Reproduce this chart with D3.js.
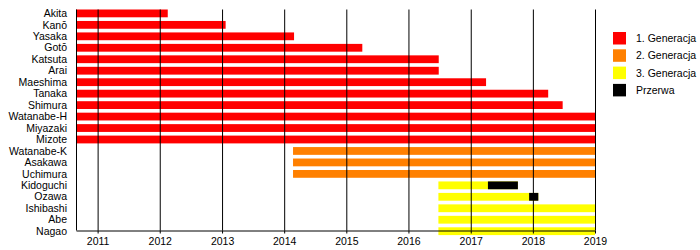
<!DOCTYPE html>
<html>
<head>
<meta charset="utf-8">
<script src="https://cdn.jsdelivr.net/npm/d3@7"></script>
<style>
  body { margin: 0; background: #fff; }
  text { font-family: "Liberation Sans", Arial, sans-serif; font-size: 10.5px; fill: #000; }
</style>
</head>
<body>
<div id="chart"></div>
<script>
// members, top to bottom
const members = ["Akita", "Kanō", "Yasaka", "Gotō", "Katsuta", "Arai", "Maeshima", "Tanaka",
    "Shimura", "Watanabe-H", "Miyazaki", "Mizote", "Watanabe-K", "Asakawa", "Uchimura",
    "Kidoguchi", "Ozawa", "Ishibashi", "Abe", "Nagao"];
const generation = [1, 1, 1, 1, 1, 1, 1, 1, 1, 1, 1, 1, 2, 2, 2, 3, 3, 3, 3, 3];
const joined = ["2010-08-27", "2010-08-27", "2010-08-27", "2010-08-27", "2010-08-27", "2010-08-27",
    "2010-08-27", "2010-08-27", "2010-08-27", "2010-08-27", "2010-08-27", "2010-08-27",
    "2014-02-22", "2014-02-22", "2014-02-22",
    "2016-06-25", "2016-06-25", "2016-06-25", "2016-06-25", "2016-06-25"];
const left = ["2012-02-17", "2013-01-22", "2014-02-28", "2015-04-05", "2016-06-27", "2016-06-27",
    "2017-04-01", "2018-04-01", "2018-06-25", "2019-01-01", "2019-01-01", "2019-01-01",
    "2019-01-01", "2019-01-01", "2019-01-01",
    "2017-10-05", "2018-02-02", "2019-01-01", "2019-01-01", "2019-01-01"];
// breaks (Przerwa)
const breakMembers = ["Kidoguchi", "Ozawa"];
const breakStart = ["2017-04-12", "2017-12-10"];
const breakEnd = ["2017-10-05", "2018-02-02"];

const years = [2011, 2012, 2013, 2014, 2015, 2016, 2017, 2018, 2019];
const legendLabels = ["1. Generacja", "2. Generacja", "3. Generacja", "Przerwa"];
const legendColors = ["#ff0000", "#ff8000", "#ffff00", "#000000"];

const width = 700, height = 250;
const margin = { top: 9.5, left: 76, right: 105, bottom: 20 };
const parseDate = d3.timeParse("%Y-%m-%d");

const svg = d3.select("#chart").append("svg")
    .attr("width", width)
    .attr("height", height);

const x = d3.scaleTime()
    .domain([parseDate("2010-08-27"), parseDate("2019-01-01")])
    .range([margin.left, width - margin.right]);

const plotBottom = 230.5;
const y = d3.scaleBand()
    .domain(members)
    .range([margin.top, margin.top + 11.28 * members.length])
    .paddingInner(0.32)
    .paddingOuter(0);

const genColor = d3.scaleOrdinal().domain([1, 2, 3]).range(legendColors.slice(0, 3));

const rows = members.map((m, i) => ({
    name: m,
    gen: generation[i],
    from: parseDate(joined[i]),
    to: parseDate(left[i])
}));

const breaks = breakMembers.map((m, i) => ({
    name: m,
    from: parseDate(breakStart[i]),
    to: parseDate(breakEnd[i])
}));

// bars
svg.append("g").selectAll("rect")
    .data(rows)
    .enter().append("rect")
    .attr("x", d => x(d.from))
    .attr("y", d => y(d.name))
    .attr("width", d => x(d.to) - x(d.from))
    .attr("height", y.bandwidth())
    .attr("fill", d => genColor(d.gen));

svg.append("g").selectAll("rect")
    .data(breaks)
    .enter().append("rect")
    .attr("x", d => x(d.from))
    .attr("y", d => y(d.name))
    .attr("width", d => x(d.to) - x(d.from))
    .attr("height", y.bandwidth())
    .attr("fill", "#000");

// grid lines on top
const tickDates = years.map(yr => new Date(yr, 0, 1));
svg.append("g")
    .attr("transform", `translate(0,${plotBottom})`)
    .call(d3.axisBottom(x).tickValues(tickDates).tickSize(-(plotBottom - margin.top)).tickFormat(""))
    .call(g => g.select(".domain").remove())
    .selectAll("line").attr("stroke", "#000");

// x axis
svg.append("g")
    .attr("transform", `translate(0,${plotBottom})`)
    .call(d3.axisBottom(x).tickValues(tickDates).tickSize(3).tickSizeOuter(0).tickPadding(4)
        .tickFormat(d3.timeFormat("%Y")))
    .call(g => g.selectAll("text").style("font-size", "10.5px").attr("fill", "#000"))
    .call(g => g.select(".domain").attr("stroke", "#000"));

// left axis line
svg.append("line")
    .attr("x1", margin.left + 0.5).attr("x2", margin.left + 0.5)
    .attr("y1", margin.top).attr("y2", plotBottom)
    .attr("stroke", "#000");

// member labels
svg.append("g").selectAll("text")
    .data(members)
    .enter().append("text")
    .attr("x", 67)
    .attr("y", d => y(d) + y.bandwidth() / 2)
    .attr("dy", "0.35em")
    .attr("text-anchor", "end")
    .text(d => d);

// legend
const legend = svg.append("g").attr("transform", "translate(613,32)");
const item = legend.selectAll("g")
    .data(legendLabels)
    .enter().append("g")
    .attr("transform", (d, i) => `translate(0,${i * 17.3})`);
item.append("rect")
    .attr("width", 13)
    .attr("height", 12.5)
    .attr("fill", (d, i) => legendColors[i]);
item.append("text")
    .attr("x", 23)
    .attr("y", 6.5)
    .attr("dy", "0.35em")
    .text(d => d);
</script>
</body>
</html>
